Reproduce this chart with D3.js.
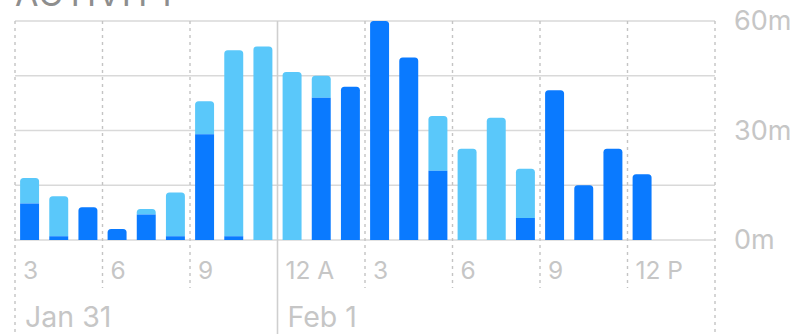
<!DOCTYPE html>
<html>
<head>
<meta charset="utf-8"/>
<script src="https://d3js.org/d3.v7.min.js"></script>
<style>
  body { margin: 0; background: #fff; overflow: hidden; }
  text { font-family: Inter, "Liberation Sans", Arial, sans-serif; }
</style>
</head>
<body>
<svg id="svg" width="799" height="334"></svg>
<script>
// one bar per hour, 3 PM Jan 31 -> 2 PM Feb 1
var hourLabels = ["3 PM","4 PM","5 PM","6 PM","7 PM","8 PM","9 PM","10 PM","11 PM",
                  "12 AM","1 AM","2 AM","3 AM","4 AM","5 AM","6 AM","7 AM","8 AM",
                  "9 AM","10 AM","11 AM","12 PM","1 PM","2 PM"];
// minutes, dark segment (bottom)
var darkMin  = [10, 1, 9, 3, 7, 1, 29, 1, 0, 0, 39, 42, 60, 50, 19, 0, 0, 6, 41, 15, 25, 18, 0, 0];
// minutes, light segment stacked on top
var lightMin = [7, 11, 0, 0, 1.5, 12, 9, 51, 53, 46, 6, 0, 0, 0, 15, 25, 33.5, 13.5, 0, 0, 0, 0, 0, 0];

var tickLabels = ["3", "6", "9", "12 A", "3", "6", "9", "12 P"];
var dateLabels = ["Jan 31", "Feb 1"];
var dateAt = [0, 9];          // hour index where each day label sits
var gridMinutes = [0, 15, 30, 45, 60];
var yLabelMinutes = [0, 30, 60];

var plotLeft = 15, plotRight = 715, plotTop = 21, plotBase = 240;
var darkBlue = "#0a7aff", lightBlue = "#5ac8fa";

var svg = d3.select("#svg");

var xPos = d3.scaleLinear().domain([0, 24]).range([plotLeft, plotRight]);
var x = d3.scaleBand().domain(hourLabels).range([plotLeft, plotRight])
    .paddingInner(0.35).paddingOuter(0.175);
var y = d3.scaleLinear().domain([0, 60]).range([plotBase, plotTop]);

// title, mostly cut off at top
svg.append("text")
  .attr("x", 15).attr("y", 6)
  .style("font-size", "34px")
  .style("fill", "#8e8e8e")
  .style("letter-spacing", "1px")
  .text("ACTIVITY");

// horizontal grid
svg.selectAll(".hgrid").data(gridMinutes).enter().append("line")
  .attr("x1", plotLeft).attr("x2", plotRight)
  .attr("y1", function(d){ return y(d); }).attr("y2", function(d){ return y(d); })
  .style("stroke", "#d9d9d9").style("stroke-width", 1.3);

// vertical grid every 3 hours
var vIdx = d3.range(0, 25, 3);
svg.selectAll(".vgrid").data(vIdx).enter().append("line")
  .attr("x1", function(d){ return xPos(d); }).attr("x2", function(d){ return xPos(d); })
  .attr("y1", plotTop)
  .attr("y2", function(d){ return (d == 0 || d == 24 || d == 9) ? 334 : 288; })
  .style("stroke", function(d){ return d == 9 ? "#cfcfcf" : "#c4c4c4"; })
  .style("stroke-width", function(d){ return d == 9 ? 1.6 : 1.4; })
  .style("stroke-dasharray", function(d){ return d == 9 ? null : "3,4"; });

function topRounded(x0, y0, w, h, r) {
  r = Math.min(r, h, w / 2);
  return "M" + x0 + "," + (y0 + h) + "V" + (y0 + r) +
    "Q" + x0 + "," + y0 + " " + (x0 + r) + "," + y0 +
    "H" + (x0 + w - r) +
    "Q" + (x0 + w) + "," + y0 + " " + (x0 + w) + "," + (y0 + r) +
    "V" + (y0 + h) + "Z";
}

var bars = hourLabels.map(function(h, i){
  return { hour: h, dark: darkMin[i], light: lightMin[i] };
});

// light segment
svg.selectAll(".light").data(bars.filter(function(d){ return d.light > 0; }))
  .enter().append("path")
  .attr("d", function(d){
    var y0 = y(d.dark + d.light), y1 = y(d.dark);
    return topRounded(x(d.hour), y0, x.bandwidth(), y1 - y0, 3.5);
  })
  .style("fill", lightBlue);

// dark segment
svg.selectAll(".dark").data(bars.filter(function(d){ return d.dark > 0; }))
  .enter().append("path")
  .attr("d", function(d){
    var y0 = y(d.dark);
    return topRounded(x(d.hour), y0, x.bandwidth(), plotBase - y0, d.light > 0 ? 0 : 3.5);
  })
  .style("fill", darkBlue);

// hour tick labels
svg.selectAll(".tick").data(tickLabels).enter().append("text")
  .attr("x", function(d, i){ return xPos(i * 3) + 8; })
  .attr("y", 279)
  .style("font-size", "24.5px")
  .style("fill", "#c6c6c6")
  .text(function(d){ return d; });

// date labels
svg.selectAll(".date").data(dateLabels).enter().append("text")
  .attr("x", function(d, i){ return xPos(dateAt[i]) + 10; })
  .attr("y", 327)
  .style("font-size", "28.5px")
  .style("fill", "#c6c6c6")
  .text(function(d){ return d; });

// y labels on the right
svg.selectAll(".ylab").data(yLabelMinutes).enter().append("text")
  .attr("x", 734)
  .attr("y", function(d){ return y(d) + 9; })
  .style("font-size", "27px")
  .style("fill", "#c6c6c6")
  .text(function(d){ return d + "m"; });
</script>
</body>
</html>
